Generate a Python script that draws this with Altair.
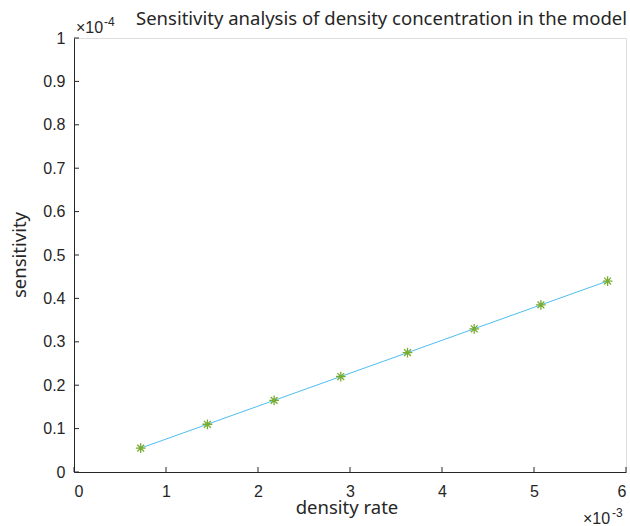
import altair as alt
import pandas as pd

density_rate = [0.725e-3, 1.45e-3, 2.175e-3, 2.9e-3, 3.625e-3, 4.35e-3, 5.075e-3, 5.8e-3]
sensitivity = [0.055e-4, 0.11e-4, 0.165e-4, 0.22e-4, 0.275e-4, 0.33e-4, 0.385e-4, 0.44e-4]
x_ticks = [0, 1e-3, 2e-3, 3e-3, 4e-3, 5e-3, 6e-3]
y_ticks = [0, 0.1e-4, 0.2e-4, 0.3e-4, 0.4e-4, 0.5e-4, 0.6e-4, 0.7e-4, 0.8e-4, 0.9e-4, 1e-4]

df = pd.DataFrame({"x": density_rate, "y": sensitivity})
xt = pd.DataFrame({"x": x_ticks})
yt = pd.DataFrame({"y": y_ticks})

W, H = 552, 434
AX = "#262626"
LABEL_FONT = "Liberation Sans"
TITLE_FONT = "Noto Sans"

xscale = alt.Scale(domain=[0, 6e-3], nice=False, zero=False)
yscale = alt.Scale(domain=[0, 1e-4], nice=False, zero=False)

xaxis = alt.Axis(values=x_ticks, labelExpr="format(datum.value*1000, '~g')", tickSize=0,
                 labelPadding=11, grid=False, title=None,
                 labelFont=LABEL_FONT, labelFontSize=16, labelColor=AX, domainColor=AX)
yaxis = alt.Axis(values=y_ticks, labelExpr="format(datum.value*10000, '~g')", tickSize=0,
                 labelPadding=9, grid=False, title=None,
                 labelFont=LABEL_FONT, labelFontSize=16, labelColor=AX, domainColor=AX)

line = alt.Chart(df).mark_line(color="#4DBEEE", strokeWidth=1).encode(
    x=alt.X("x:Q", scale=xscale, axis=xaxis),
    y=alt.Y("y:Q", scale=yscale, axis=yaxis),
)

asterisk = "M-1,0L1,0M0,-1L0,1M-0.7,-0.7L0.7,0.7M-0.7,0.7L0.7,-0.7"
pts = alt.Chart(df).mark_point(shape=asterisk, size=95, filled=False, stroke="#77AC30",
                               strokeWidth=1.3, opacity=1).encode(
    x=alt.X("x:Q", scale=xscale),
    y=alt.Y("y:Q", scale=yscale),
)

xticks = alt.Chart(xt).mark_rule(color=AX, strokeWidth=1).encode(
    x=alt.X("x:Q", scale=xscale), y=alt.value(H), y2=alt.value(H - 5))
yticks = alt.Chart(yt).mark_rule(color=AX, strokeWidth=1).encode(
    y=alt.Y("y:Q", scale=yscale), x=alt.value(0), x2=alt.value(5))

def txt(s, x, y, size, align="left", baseline="alphabetic", font=LABEL_FONT, angle=0):
    return alt.Chart(pd.DataFrame({"t": [s]})).mark_text(
        text=s, font=font, fontSize=size, color=AX, align=align, baseline=baseline, angle=angle
    ).encode(x=alt.value(x), y=alt.value(y))

ymul = txt("×10", 2, -5, 16) + txt("-4", 30, -12, 12)
xmul = txt("×10", 509, H + 52, 16) + txt("-3", 538, H + 45, 12)
title = txt("Sensitivity analysis of density concentration in the model", W + 1, -13, 18.5,
            align="right", font=TITLE_FONT)
xtitle = txt("density rate", 273, H + 42, 18.5, align="center", font=TITLE_FONT)
ytitle = txt("sensitivity", -54, H / 2, 18.5, align="center", baseline="middle",
             font=TITLE_FONT, angle=270)

chart = alt.layer(line, pts, xticks, yticks, ymul, xmul, title, xtitle, ytitle).properties(
    width=W, height=H,
    autosize=alt.AutoSizeParams(type="none"),
    padding={"left": 74, "top": 38, "right": 4, "bottom": 54},
).configure_view(stroke=None).configure(background="white")

chart.save("out.html", embed_options={"renderer": "svg", "actions": False})
